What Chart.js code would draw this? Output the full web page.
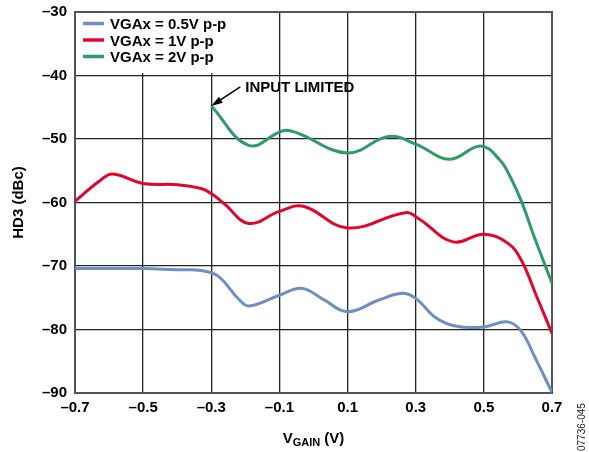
<!DOCTYPE html>
<html>
<head>
<meta charset="utf-8">
<script src="https://cdn.jsdelivr.net/npm/chart.js@4/dist/chart.umd.min.js"></script>
<style>
  html, body { margin: 0; padding: 0; background: #fff; }
  #wrap { width: 589px; height: 452px; position: relative; }
</style>
</head>
<body>
<div id="wrap"><canvas id="hd3Chart" width="589" height="452"></canvas></div>
<script>
// ===== DATA =====
const xTicks = [-0.7, -0.5, -0.3, -0.1, 0.1, 0.3, 0.5, 0.7];
const yTicks = [-90, -80, -70, -60, -50, -40, -30];

const seriesLabels = ['VGAx = 0.5V p-p', 'VGAx = 1V p-p', 'VGAx = 2V p-p'];

// VGAx = 0.5V p-p
const blueX = [-0.70, -0.60, -0.50, -0.40, -0.33, -0.28, -0.22, -0.19, -0.10, -0.035, 0.03, 0.10, 0.19, 0.26, 0.30, 0.36, 0.42, 0.50, 0.57, 0.61, 0.65, 0.70];
const blueY = [-70.4, -70.4, -70.4, -70.6, -70.7, -71.6, -75.2, -76.3, -74.6, -73.5, -75.3, -77.2, -75.4, -74.3, -75.1, -78.2, -79.5, -79.6, -78.8, -80.3, -84.4, -89.9];

// VGAx = 1V p-p
const redX = [-0.70, -0.63, -0.59, -0.50, -0.40, -0.33, -0.30, -0.26, -0.19, -0.10, -0.03, 0.10, 0.27, 0.31, 0.41, 0.50, 0.57, 0.61, 0.655, 0.70];
const redY = [-59.8, -56.7, -55.5, -57.0, -57.2, -57.8, -58.6, -60.3, -63.3, -61.4, -60.6, -64.0, -61.6, -62.6, -66.2, -65.0, -66.4, -69.1, -74.8, -80.6];

// VGAx = 2V p-p
const greenX = [-0.30, -0.19, -0.09, -0.05, 0.10, 0.22, 0.30, 0.40, 0.49, 0.547, 0.577, 0.611, 0.645, 0.70];
const greenY = [-44.8, -51.0, -48.7, -49.0, -52.2, -49.6, -50.8, -53.2, -51.1, -53.3, -55.9, -59.9, -65.0, -72.7];

const colors = ['#6f8fc2', '#e2062f', '#2f9c66'];

const toPoints = (xs, ys) => xs.map((x, i) => ({ x: x, y: ys[i] }));
const dash = s => String(s).replace('-', '\u2013');
const FONT = '"Liberation Sans", Arial, sans-serif';

// ===== PLUGIN: frame, legend box, annotation, titles =====
const decor = {
  id: 'decor',
  beforeDatasetsDraw(chart) {
    const { ctx, chartArea: a } = chart;
    ctx.save();
    // legend background hides grid
    ctx.fillStyle = '#fff';
    ctx.fillRect(a.left + 1, a.top + 1, 168, 60);
    // frame
    ctx.strokeStyle = '#555';
    ctx.lineWidth = 2;
    ctx.strokeRect(a.left, a.top, a.right - a.left, a.bottom - a.top);
    // legend entries
    ctx.font = 'bold 15px ' + FONT;
    ctx.textBaseline = 'middle';
    seriesLabels.forEach((lbl, i) => {
      const y = a.top + 11.5 + i * 16.5;
      ctx.strokeStyle = colors[i];
      ctx.lineWidth = 3.5;
      ctx.beginPath();
      ctx.moveTo(a.left + 8, y);
      ctx.lineTo(a.left + 29, y);
      ctx.stroke();
      ctx.fillStyle = '#000';
      ctx.fillText(lbl, a.left + 35, y + 1.5);
    });
    ctx.restore();
  },
  afterDatasetsDraw(chart) {
    const { ctx, scales } = chart;
    const tx = scales.x.getPixelForValue(greenX[0]);
    const ty = scales.y.getPixelForValue(greenY[0]);
    ctx.save();
    // arrow
    const sx = tx + 29, sy = ty - 19;
    const ang = Math.atan2(ty - sy, tx - sx);
    ctx.strokeStyle = '#000';
    ctx.fillStyle = '#000';
    ctx.lineWidth = 1.5;
    ctx.beginPath();
    ctx.moveTo(sx, sy);
    ctx.lineTo(tx + 6 * Math.cos(ang + Math.PI) , ty + 6 * Math.sin(ang + Math.PI));
    ctx.stroke();
    ctx.beginPath();
    ctx.moveTo(tx, ty);
    ctx.lineTo(tx - 12 * Math.cos(ang - 0.3), ty - 12 * Math.sin(ang - 0.3));
    ctx.lineTo(tx - 12 * Math.cos(ang + 0.3), ty - 12 * Math.sin(ang + 0.3));
    ctx.closePath();
    ctx.fill();
    ctx.font = 'bold 15px ' + FONT;
    ctx.textBaseline = 'middle';
    ctx.fillText('INPUT LIMITED', tx + 34, ty - 18);

    // x title with subscript
    ctx.textBaseline = 'alphabetic';
    ctx.font = 'bold 15px ' + FONT;
    const w1 = ctx.measureText('V').width;
    ctx.font = 'bold 11px ' + FONT;
    const w2 = ctx.measureText('GAIN').width;
    ctx.font = 'bold 15px ' + FONT;
    const w3 = ctx.measureText(' (V)').width;
    let x0 = (chart.chartArea.left + chart.chartArea.right) / 2 - (w1 + w2 + w3) / 2;
    ctx.fillText('V', x0, 443);
    ctx.font = 'bold 11px ' + FONT;
    ctx.fillText('GAIN', x0 + w1, 446);
    ctx.font = 'bold 15px ' + FONT;
    ctx.fillText(' (V)', x0 + w1 + w2, 443);

    // y title
    ctx.save();
    ctx.translate(19, (chart.chartArea.top + chart.chartArea.bottom) / 2);
    ctx.rotate(-Math.PI / 2);
    ctx.textAlign = 'center';
    ctx.textBaseline = 'middle';
    ctx.fillText('HD3 (dBc)', 0, 0);
    ctx.restore();

    // figure code
    ctx.save();
    ctx.translate(582, 451);
    ctx.rotate(-Math.PI / 2);
    ctx.font = '10px ' + FONT;
    ctx.fillStyle = '#222';
    ctx.textAlign = 'left';
    ctx.textBaseline = 'middle';
    ctx.fillText('07736-045', 0, 0);
    ctx.restore();
    ctx.restore();
  }
};

// ===== CHART =====
const ctx = document.getElementById('hd3Chart').getContext('2d');
const lineDefaults = { borderWidth: 3, pointRadius: 0, tension: 0.4, fill: false };

new Chart(ctx, {
  type: 'line',
  data: {
    datasets: [
      { label: seriesLabels[0], data: toPoints(blueX, blueY), borderColor: colors[0], ...lineDefaults },
      { label: seriesLabels[1], data: toPoints(redX, redY), borderColor: colors[1], ...lineDefaults },
      { label: seriesLabels[2], data: toPoints(greenX, greenY), borderColor: colors[2], ...lineDefaults }
    ]
  },
  options: {
    responsive: false,
    animation: false,
    devicePixelRatio: 1,
    layout: { padding: { left: 0, top: 12, right: 37, bottom: 0 } },
    plugins: { legend: { display: false }, tooltip: { enabled: false } },
    scales: {
      x: {
        type: 'linear',
        min: -0.7,
        max: 0.7,
        afterBuildTicks: s => { s.ticks = xTicks.map(v => ({ value: v })); },
        afterFit: s => { s.height = 59; s.paddingLeft = 0; s.paddingRight = 0; },
        grid: { color: '#222', lineWidth: 1.3, drawTicks: false },
        border: { display: false },
        ticks: {
          padding: 6,
          maxRotation: 0,
          autoSkip: false,
          color: '#000',
          font: { family: FONT, size: 15, weight: 'bold' },
          callback: v => dash(v.toFixed(1))
        }
      },
      y: {
        min: -90,
        max: -30,
        afterBuildTicks: s => { s.ticks = yTicks.map(v => ({ value: v })); },
        afterFit: s => { s.width = 75; s.paddingTop = 0; s.paddingBottom = 0; },
        grid: { color: '#222', lineWidth: 1.3, drawTicks: false },
        border: { display: false },
        ticks: {
          padding: 8,
          color: '#000',
          font: { family: FONT, size: 15, weight: 'bold' },
          callback: v => dash(v)
        }
      }
    }
  },
  plugins: [decor]
});
</script>
</body>
</html>
